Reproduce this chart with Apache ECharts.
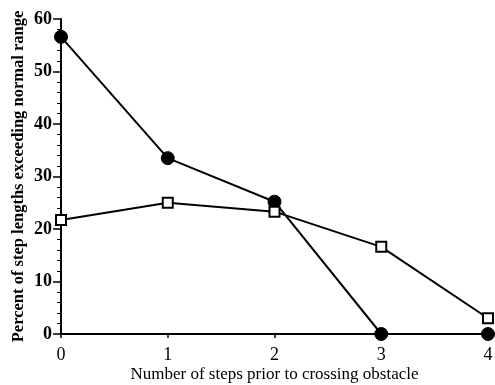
<!DOCTYPE html>
<html><head><meta charset="utf-8">
<script src="https://cdn.jsdelivr.net/npm/echarts@6/dist/echarts.min.js"></script>
<style>html,body{margin:0;padding:0;background:#fff}#c{width:495px;height:385px}</style>
</head><body><div id="c"></div>
<script>
var steps = [0, 1, 2, 3, 4];
var filledSeries = [56.6, 33.5, 25.2, 0, 0];
var openSeries = [21.7, 25.0, 23.3, 16.6, 3.0];
var xTicks = [0, 1, 2, 3, 4];
var yTicks = [0, 10, 20, 30, 40, 50, 60];

function pairs(xs, ys){ return xs.map(function(x,i){ return [x, ys[i]]; }); }

var chart = echarts.init(document.getElementById('c'));
var font = '"Liberation Serif", "Times New Roman", serif';
chart.setOption({
  animation: false,
  backgroundColor: '#fff',
  grid: {left: 61, top: 19, right: 7, bottom: 51, containLabel: false, outerBoundsMode: 'none'},
  xAxis: {
    type: 'value', min: 0, max: 4, interval: 1,
    name: 'Number of steps prior to crossing obstacle',
    nameLocation: 'middle', nameGap: 32, nameMoveOverlap: false,
    nameTextStyle: {color: '#000', fontFamily: font, fontSize: 17},
    axisLine: {lineStyle: {color: '#000', width: 2}},
    axisTick: {show: true, length: 4, lineStyle: {color: '#000', width: 1.5}},
    axisLabel: {color: '#000', fontFamily: font, fontSize: 18, margin: 12,
      formatter: function(v){ return xTicks.indexOf(v) >= 0 ? String(v) : ''; }},
    splitLine: {show: false}
  },
  yAxis: {
    type: 'value', min: 0, max: 60, interval: 10,
    name: 'Percent of step lengths exceeding normal range',
    nameLocation: 'middle', nameGap: 34, nameRotate: 90, nameMoveOverlap: false,
    nameTextStyle: {color: '#000', fontFamily: font, fontSize: 16.5, fontWeight: 'bold'},
    axisLine: {show: true, lineStyle: {color: '#000', width: 2}},
    axisTick: {show: true, length: 8, lineStyle: {color: '#000', width: 1.5}},
    minorTick: {show: true, splitNumber: 5, length: 4, lineStyle: {color: '#000', width: 1}},
    axisLabel: {color: '#000', fontFamily: font, fontSize: 18, fontWeight: 'bold', margin: 9,
      formatter: function(v){ return yTicks.indexOf(v) >= 0 ? String(v) : ''; }},
    splitLine: {show: false}
  },
  series: [
    {
      type: 'line', data: pairs(steps, filledSeries),
      symbol: 'circle', symbolSize: 13,
      lineStyle: {color: '#000', width: 2},
      itemStyle: {color: '#000', borderColor: '#000'},
      z: 3
    },
    {
      type: 'line', data: pairs(steps, openSeries),
      symbol: 'rect', symbolSize: 10,
      lineStyle: {color: '#000', width: 2},
      itemStyle: {color: '#fff', borderColor: '#000', borderWidth: 2},
      z: 4
    }
  ]
});
</script></body></html>
